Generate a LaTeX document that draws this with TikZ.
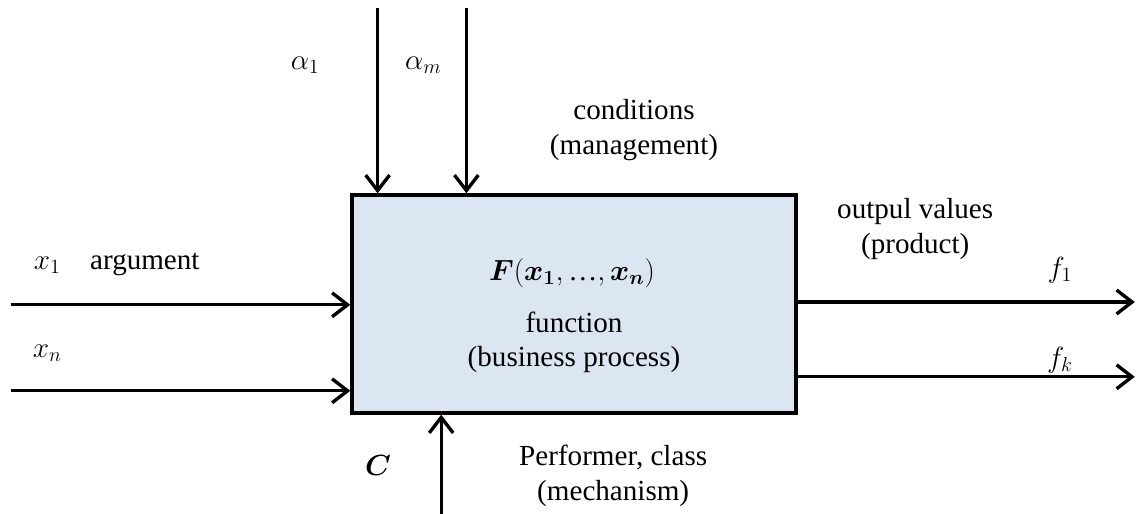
\documentclass[tikz,border=0pt]{standalone}
\usepackage{amsmath,amssymb}
\usepackage{bm}
\usepackage{fontspec}
\setmainfont{Liberation Serif}
\usepackage{tikz}
\usetikzlibrary{arrows.meta,positioning,calc}
\definecolor{boxblue}{HTML}{DCE6F2}

\begin{document}
\begin{tikzpicture}[auto, >={Straight Barb[length=11pt,width=17pt]},
  every node/.style={font=\fontsize{20.7}{24.5}\selectfont},
  flow/.style={->, line width=2.4pt},
  fbox/.style={draw, line width=2.4pt, fill=boxblue, inner sep=0pt,
    minimum width=11.1cm, minimum height=5.45cm},
  caption/.style={align=center}]

  \useasboundingbox (0,0) rectangle (28.4,-12.85);

  % Define nodes
  \node[fbox] (fn) at (14.35,-7.6) {};
  \node (Fx) at (14.3,-6.83) {$\bm{F}(\bm{x_1},\text{\normalfont …},\bm{x_n})$};
  \node[caption] (fname) at (14.35,-8.56) {function\\(business process)};

  \coordinate (a1) at (9.44,-0.2);
  \coordinate (am) at (11.66,-0.2);
  \coordinate (x1) at (0.27,-7.62);
  \coordinate (xn) at (0.27,-9.77);
  \coordinate (f1) at (28.37,-7.55);
  \coordinate (fk) at (28.37,-9.42);
  \coordinate (mech) at (11.03,-12.85);

  \node (la1) at (7.63,-1.63) {$\alpha_1$};
  \node (lam) at (10.58,-1.63) {$\alpha_m$};
  \node[caption] (cond) at (15.85,-3.25) {conditions\\(management)};
  \node (lx1) at (1.18,-6.63) {$x_1$};
  \node[anchor=base west] (arg) at ($(lx1.base)+(0.95,0)$) {argument};
  \node (lxn) at (1.18,-8.83) {$x_n$};
  \node[caption] (outv) at (22.88,-5.72) {outpul values\\(product)};
  \node (lf1) at (26.5,-6.75) {$f_1$};
  \node (lfk) at (26.5,-9.0) {$f_k$};
  \node (lC) at (9.45,-11.63) {$\bm{C}$};
  \node[caption] (perf) at (15.33,-11.9) {Performer, class\\(mechanism)};

  % Draw arrows
  \draw[flow] (a1) -- (a1 |- fn.north);
  \draw[flow] (am) -- (am |- fn.north);
  \draw[flow] (x1) -- (x1 -| fn.west);
  \draw[flow] (xn) -- (xn -| fn.west);
  \draw[flow] (f1 -| fn.east) -- (f1);
  \draw[flow] (fk -| fn.east) -- (fk);
  \draw[flow] (mech) -- (mech |- fn.south);
\end{tikzpicture}
\end{document}
